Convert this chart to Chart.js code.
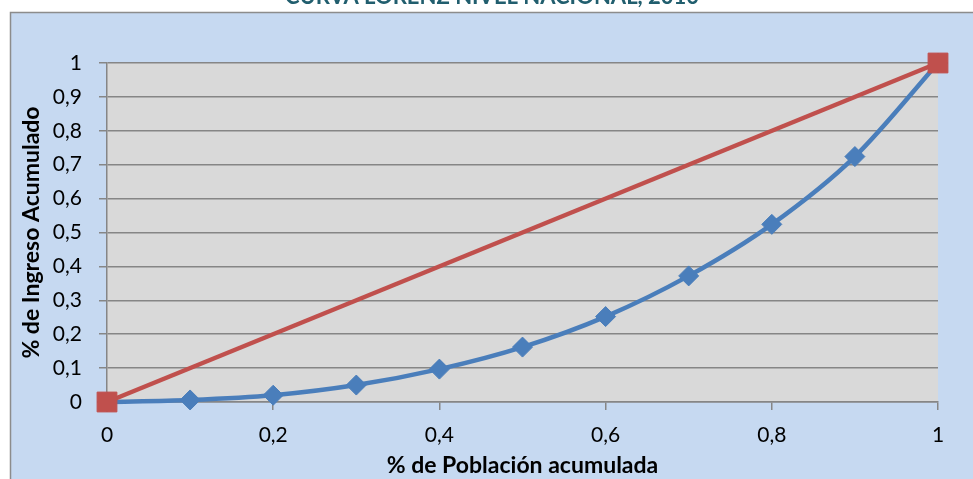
<!DOCTYPE html>
<html>
<head>
<meta charset="utf-8">
<script src="https://cdn.jsdelivr.net/npm/chart.js@4/dist/chart.umd.min.js"></script>
<style>
    html, body { margin: 0; padding: 0; background: #ffffff; }
    #wrap { position: relative; width: 973px; height: 479px; }
</style>
</head>
<body>
<div id="wrap"><canvas id="lorenzChart" width="973" height="479"></canvas></div>
<script>
// Datos de la curva de Lorenz
const poblacionAcum = [0, 0.1, 0.2, 0.3, 0.4, 0.5, 0.6, 0.7, 0.8, 0.9, 1];
const ingresoAcum = [0, 0.006, 0.02, 0.05, 0.097, 0.162, 0.252, 0.372, 0.524, 0.724, 1];
const equidadX = [0, 1];
const equidadY = [0, 1];

const tituloGrafico = 'CURVA LORENZ NIVEL NACIONAL, 2010';
const FONT = 'Lato, "Open Sans", sans-serif';

function toPoints(xs, ys) {
    return xs.map(function(x, i) { return { x: x, y: ys[i] }; });
}

function formatComma(value) {
    const v = Math.round(value * 10) / 10;
    return v.toString().replace('.', ',');
}

// fondo: blanco, recuadro azul y area de trazado gris
const backgroundPlugin = {
    id: 'backgroundPlugin',
    beforeDraw: function(chart) {
        const ctx = chart.ctx;
        const a = chart.chartArea;
        ctx.save();
        ctx.fillStyle = '#ffffff';
        ctx.fillRect(0, 0, chart.width, chart.height);
        ctx.fillStyle = '#C6D9F1';
        ctx.fillRect(10, 12, chart.width - 10, chart.height - 12);
        ctx.strokeStyle = '#8C8C8C';
        ctx.lineWidth = 1.5;
        ctx.beginPath();
        ctx.moveTo(10.5, chart.height);
        ctx.lineTo(10.5, 12.5);
        ctx.lineTo(chart.width, 12.5);
        ctx.stroke();
        ctx.fillStyle = '#D9D9D9';
        ctx.fillRect(a.left, a.top, a.right - a.left, a.bottom - a.top);
        ctx.restore();
    },
    afterDraw: function(chart) {
        const ctx = chart.ctx;
        ctx.save();
        ctx.font = 'bold 22px ' + FONT;
        ctx.fillStyle = '#215E6E';
        ctx.textAlign = 'center';
        ctx.textBaseline = 'alphabetic';
        ctx.fillText(tituloGrafico, 492, 4);
        ctx.restore();
    }
};

const ctx = document.getElementById('lorenzChart');

const lorenzChart = new Chart(ctx, {
    type: 'scatter',
    data: {
        datasets: [{
            label: 'Equidad',
            data: toPoints(equidadX, equidadY),
            showLine: true,
            borderColor: '#C0504D',
            backgroundColor: '#C0504D',
            borderWidth: 4.5,
            pointStyle: 'rect',
            pointRadius: 14,
            pointBorderWidth: 1,
            clip: false
        }, {
            label: 'Lorenz',
            data: toPoints(poblacionAcum, ingresoAcum),
            showLine: true,
            borderColor: '#4A7EBB',
            backgroundColor: '#4A7EBB',
            borderWidth: 4.5,
            tension: 0.3,
            pointStyle: 'rectRot',
            pointRadius: 10,
            pointBorderWidth: 1,
            clip: false
        }]
    },
    options: {
        responsive: false,
        animation: false,
        devicePixelRatio: 1,
        layout: {
            padding: { top: 63, right: 35, left: 0, bottom: 0 }
        },
        plugins: {
            legend: { display: false },
            tooltip: { enabled: false },
            title: { display: false }
        },
        scales: {
            x: {
                type: 'linear',
                min: 0,
                max: 1,
                afterFit: function(scale) { scale.height = 77; },
                ticks: {
                    stepSize: 0.2,
                    padding: 13,
                    color: '#000000',
                    font: { family: FONT, size: 21 },
                    callback: formatComma
                },
                grid: {
                    drawOnChartArea: false,
                    drawTicks: true,
                    tickLength: 8,
                    color: '#868686',
                    lineWidth: 1.5
                },
                border: { color: '#868686', width: 1.5 },
                title: {
                    display: true,
                    text: '% de Población acumulada',
                    color: '#000000',
                    font: { family: FONT, size: 23, weight: 'bold' },
                    padding: { top: 0, bottom: 0 }
                }
            },
            y: {
                type: 'linear',
                min: 0,
                max: 1,
                afterFit: function(scale) { scale.width = 107; },
                ticks: {
                    stepSize: 0.1,
                    padding: 17,
                    color: '#000000',
                    font: { family: FONT, size: 21 },
                    callback: formatComma
                },
                grid: {
                    drawTicks: true,
                    tickLength: 8,
                    color: '#868686',
                    lineWidth: 1.5
                },
                border: { color: '#868686', width: 1.5 },
                title: {
                    display: true,
                    text: '% de Ingreso Acumulado',
                    color: '#000000',
                    font: { family: FONT, size: 23, weight: 'bold' },
                    padding: { top: 18, bottom: 0 }
                }
            }
        }
    },
    plugins: [backgroundPlugin]
});
</script>
</body>
</html>
